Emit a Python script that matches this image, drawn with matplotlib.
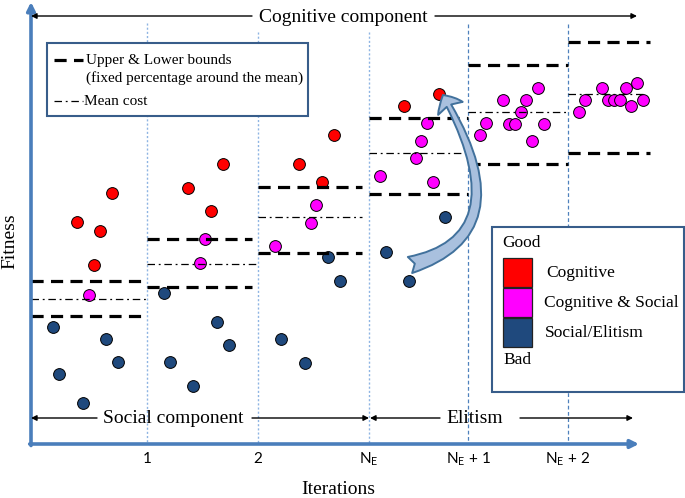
import matplotlib
matplotlib.use("Agg")
import matplotlib.pyplot as plt
from matplotlib.patches import Rectangle, FancyArrowPatch

plt.rcParams['mathtext.default'] = 'regular'

# ---------------- data (diagram units: x across iterations, y = fitness level, top = good) -------------
# column edges (iteration boundaries)
col_left = [31, 147, 258, 369, 468, 568]
col_right_bound = [147, 252, 362, 468, 568, 650]
col_right_mean = [147, 257, 362, 468, 568, 645]
upper_bound = [281.0, 239.3, 187.0, 117.7, 65.3, 41.7]
mean_cost = [298.7, 263.7, 216.7, 152.7, 112.0, 94.3]
lower_bound = [315.7, 287.0, 252.7, 193.7, 164.3, 152.7]

iter_ticks = [147, 258, 369, 468, 568]
iter_labels = ['1', '2', r'N$_{E}$', r'N$_{E}$ + 1', r'N$_{E}$ + 2']
vline_top = [23, 32, 32, 24, 24]

cog_x = [111.7, 77, 100, 94.3, 222.7, 188, 211, 333.7, 298.7, 322, 438.7, 404]
cog_y = [193.3, 222.3, 231, 265.3, 164.3, 187.7, 211, 135, 164.3, 181.7, 94.3, 105.7]

both_x = [88.7, 205.3, 199.7, 316, 310.7, 275.3,
          427.3, 421.3, 415.7, 380.3, 433.3,
          480, 485.7, 503, 526.3, 538, 520.7, 508.7, 515, 544, 532,
          579, 584.7, 602.3, 608.3, 614.3, 620, 625.7, 637.3, 631.3, 643]
both_y = [295.3, 239, 263.3, 205, 222.7, 245.7,
          123.3, 141, 158.3, 176, 181.7,
          135.3, 123.3, 100.3, 100.3, 88.3, 112, 123.7, 123.7, 123.7, 141,
          112, 100.3, 88.3, 100.3, 100.3, 100.3, 88.3, 82.7, 106, 100.3]

soc_x = [53.3, 106, 117.7, 59.3, 82.7, 164.3, 217.3, 228.7, 170.3, 193.3,
         328, 339.7, 281.3, 304.7, 444.7, 386.3, 409.3]
soc_y = [327.3, 339, 362.3, 374, 403.3, 292.7, 321.7, 345, 362.3, 385.7,
         257.3, 281, 339, 362.7, 216.7, 251.7, 281]

categories = ['Cognitive', 'Cognitive & Social', 'Social/Elitism']
cat_colors = ['#FF0000', '#FF00FF', '#1F497D']

# ---------------- figure ----------------
SERIF = 'Liberation Serif'
fig = plt.figure(figsize=(6.85, 4.98), dpi=100)
ax = fig.add_axes([0, 0, 1, 1])
ax.set_xlim(0, 685)
ax.set_ylim(498, 0)
ax.axis('off')

axis_blue = '#4A7EBB'

# iteration separators
for i, (x, top) in enumerate(zip(iter_ticks, vline_top)):
    if i < 3:
        ax.plot([x, x], [top, 444], color='#8EB4E3', lw=1.0, ls=(0, (1.5, 1.5)), zorder=1)
    else:
        ax.plot([x, x], [top, 444], color='#4F81BD', lw=0.9, ls=(0, (3, 2)), zorder=1)

# points
ms = 72
for xs, ys, c in [(cog_x, cog_y, cat_colors[0]), (both_x, both_y, cat_colors[1]),
                  (soc_x, soc_y, cat_colors[2])]:
    ax.scatter(xs, ys, s=ms, color=c, edgecolor='black', linewidth=0.7, zorder=3)

# bounds and mean lines
for l, rb, rm, ub, mc, lb in zip(col_left, col_right_bound, col_right_mean,
                                 upper_bound, mean_cost, lower_bound):
    ax.plot([l, rb], [ub, ub], color='black', lw=2.3, ls=(0, (3.8, 2.3)), zorder=4, solid_capstyle='butt')
    ax.plot([l, rb], [lb, lb], color='black', lw=2.3, ls=(0, (3.8, 2.3)), zorder=4, solid_capstyle='butt')
    ax.plot([l, rm], [mc, mc], color='black', lw=0.9, ls=(0, (6, 3, 1.5, 3)), zorder=4)

# axes arrows
ax.annotate('', xy=(31, 2), xytext=(31, 445.5),
            arrowprops=dict(arrowstyle='-|>', color=axis_blue, lw=2.6, mutation_scale=12,
                            shrinkA=0, shrinkB=0), zorder=5)
ax.annotate('', xy=(639, 444), xytext=(29.7, 444),
            arrowprops=dict(arrowstyle='-|>', color=axis_blue, lw=2.6, mutation_scale=12,
                            shrinkA=0, shrinkB=0), zorder=5)

# tick labels
for x, lab in zip(iter_ticks, iter_labels):
    ax.text(x, 459, lab, ha='center', va='center', fontsize=11, family='Lato')

ax.text(338, 489, 'Iterations', ha='center', va='center', fontsize=14, family=SERIF)
ax.text(10, 241, 'Fitness', ha='center', va='center', fontsize=14, family=SERIF, rotation=90)

# component arrows
def harrow(x0, x1, y):
    ax.annotate('', xy=(x1, y), xytext=(x0, y),
                arrowprops=dict(arrowstyle='-|>', color='black', lw=1.0, mutation_scale=8,
                                shrinkA=0, shrinkB=0), zorder=5)

harrow(252, 31, 16)
harrow(435, 637, 16)
ax.text(343, 17, 'Cognitive component', ha='center', va='center', fontsize=14, family=SERIF)

harrow(97, 31, 418)
harrow(252, 369, 418)
ax.text(173, 418, 'Social component', ha='center', va='center', fontsize=14, family=SERIF)

harrow(440, 370, 418)
harrow(520, 633, 418)
ax.text(474.5, 418, 'Elitism', ha='center', va='center', fontsize=14, family=SERIF)

# curved arrow (elitism move)
arr = FancyArrowPatch((410, 265), (443, 95),
                      connectionstyle='angle3,angleA=15,angleB=120',
                      arrowstyle='fancy,head_length=0.55,head_width=1.0,tail_width=0.6',
                      mutation_scale=20, facecolor='#A9C0DE', edgecolor='#41719C',
                      lw=1.4, shrinkA=0, shrinkB=0, zorder=6)
ax.add_patch(arr)

# top-left legend box
ax.add_patch(Rectangle((47, 43), 261, 73, facecolor='white', edgecolor='#385D8A', lw=1.5, zorder=7))
ax.plot([54, 83], [60, 60], color='black', lw=2.3, ls=(0, (3.8, 2.3)), zorder=8)
ax.text(86, 60, 'Upper & Lower bounds', ha='left', va='center', fontsize=11, family=SERIF, zorder=8)
ax.text(86, 78, '(fixed percentage around the mean)', ha='left', va='center', fontsize=11,
        family=SERIF, zorder=8)
ax.plot([54, 83], [101, 101], color='black', lw=0.9, ls=(0, (6, 3, 1.5, 3)), zorder=8)
ax.text(84, 101, 'Mean cost', ha='left', va='center', fontsize=11, family=SERIF, zorder=8)

# right legend box
ax.add_patch(Rectangle((492, 227), 192, 165, facecolor='white', edgecolor='#385D8A', lw=1.5, zorder=7))
ax.text(502, 243, 'Good', ha='left', va='center', fontsize=12.5, family=SERIF, zorder=8)
ax.text(503, 360, 'Bad', ha='left', va='center', fontsize=12.5, family=SERIF, zorder=8)
sq_top = [258, 288, 318]
text_x = [546, 544, 545]
for cat, col, top, tx in zip(categories, cat_colors, sq_top, text_x):
    ax.add_patch(Rectangle((503, top), 29.5, 28.5, facecolor=col, edgecolor='#222222', lw=0.9, zorder=8))
    ax.text(tx, top + 15, cat, ha='left', va='center', fontsize=12.5, family=SERIF, zorder=8)

fig.savefig('out.png', dpi=100)
